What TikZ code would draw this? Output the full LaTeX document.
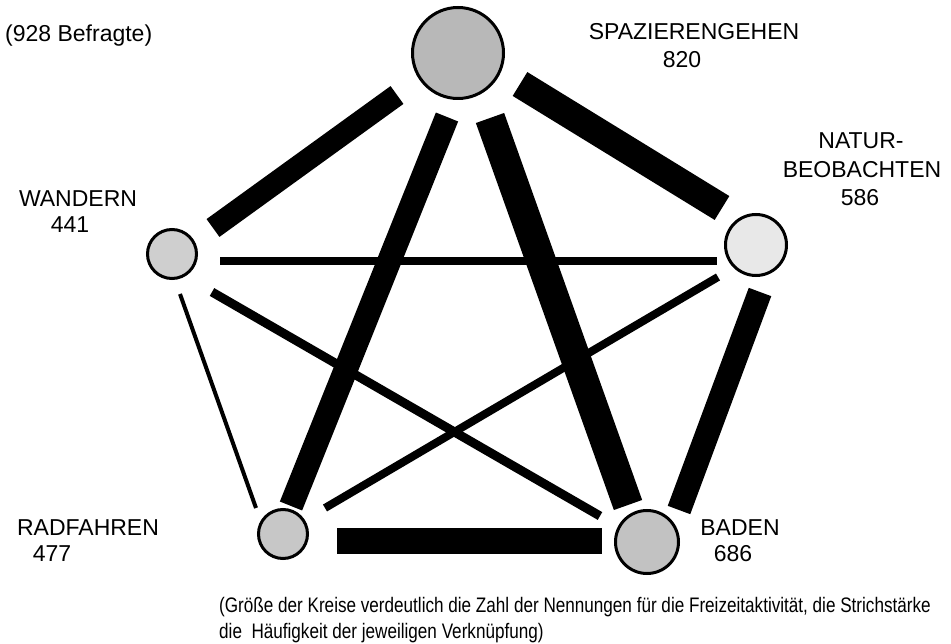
\documentclass[tikz,border=0pt]{standalone}
\usepackage{fontspec}
\setmainfont{Liberation Sans}
\newfontfamily\capfont{Liberation Sans}[FakeStretch=0.815]
\begin{document}
\begin{tikzpicture}[x=1pt,y=-1pt,
  lbl/.style={font=\fontsize{23}{27}\selectfont, inner sep=0pt, anchor=base},
  act/.style={circle, draw=black, line width=3pt, inner sep=0pt},
  link/.style={line cap=butt, draw=black},
  note/.style={font=\capfont\fontsize{21}{26}\selectfont, inner sep=0pt, anchor=base west}]
\useasboundingbox (0,0) rectangle (951,644);

% activities (circle size ~ number of mentions)
\node[act, fill=black!28, minimum size=91pt] (spa) at (458,53) {};
\node[act, fill=black!9,  minimum size=61pt] (nat) at (756,245) {};
\node[act, fill=black!19, minimum size=49pt] (wan) at (172,254) {};
\node[act, fill=black!22, minimum size=49pt] (rad) at (283,534) {};
\node[act, fill=black!24, minimum size=63pt] (bad) at (647,542) {};

% end points of the links (links stop short of the circles)
\coordinate (swA) at (213,228); \coordinate (swB) at (397,95);
\coordinate (snA) at (520,84);  \coordinate (snB) at (722,208);
\coordinate (srA) at (447,117); \coordinate (srB) at (291,506);
\coordinate (sbA) at (490,118); \coordinate (sbB) at (628,505);
\coordinate (nbA) at (760,292); \coordinate (nbB) at (679,510);
\coordinate (rbA) at (337,541); \coordinate (rbB) at (602,541);
\coordinate (wnA) at (220,261); \coordinate (wnB) at (717,261);
\coordinate (wbA) at (212,292); \coordinate (wbB) at (600,516);
\coordinate (rnA) at (325,508); \coordinate (rnB) at (718,277);
\coordinate (wrA) at (180,294); \coordinate (wrB) at (256,508);

% links, line width ~ frequency of the combination
\draw[link, line width=22pt] (swA) -- (swB);
\draw[link, line width=28pt] (snA) -- (snB);
\draw[link, line width=24pt] (srA) -- (srB);
\draw[link, line width=30pt] (sbA) -- (sbB);
\draw[link, line width=24pt] (nbA) -- (nbB);
\draw[link, line width=26pt] (rbA) -- (rbB);
\draw[link, line width=8pt]  (wnA) -- (wnB);
\draw[link, line width=9pt]  (wbA) -- (wbB);
\draw[link, line width=8pt]  (rnA) -- (rnB);
\draw[link, line width=4pt]  (wrA) -- (wrB);

% labels
\node[lbl, anchor=base west] (n928) at (5,42) {(928 Befragte)};
\node[lbl] (spaT) at (694,40) {SPAZIERENGEHEN};
\node[lbl] (spaN) at (682,68) {820};
\node[lbl] (natT1) at (861,149) {NATUR-};
\node[lbl] (natT2) at (862,178) {BEOBACHTEN};
\node[lbl] (natN) at (860,206) {586};
\node[lbl] (wanT) at (78,207) {WANDERN};
\node[lbl] (wanN) at (70,233) {441};
\node[lbl] (radT) at (88,535) {RADFAHREN};
\node[lbl] (radN) at (52,561) {477};
\node[lbl] (badT) at (740,535) {BADEN};
\node[lbl] (badN) at (733,561) {686};

% explanatory note, two lines
\node[note] (cap1) at (219,612) {(Größe der Kreise verdeutlich die Zahl der Nennungen für die Freizeitaktivität, die Strichstärke};
\node[note] (cap2) at (219,638) {die~ Häufigkeit der jeweiligen Verknüpfung)};
\end{tikzpicture}
\end{document}
